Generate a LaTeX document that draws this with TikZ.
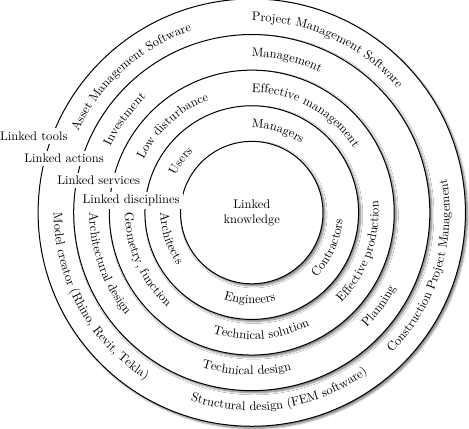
\documentclass[tikz,border=0pt]{standalone}
\usetikzlibrary{shadows.blur,decorations.text}
\newcommand\ringcw[3]{\path[decorate,decoration={text along path,text={#3},text align=left}] (#1:#2) arc[start angle=#1, end angle=#1-100, radius=#2];}
\newcommand\ringccw[3]{\path[decorate,decoration={text along path,text={#3},text align=left}] (#1:#2) arc[start angle=#1, end angle=#1+100, radius=#2];}
\begin{document}
\begin{tikzpicture}[
  ring/.style={draw=black, thick, fill=white,
    blur shadow={shadow xshift=0.55mm, shadow yshift=-0.55mm, shadow blur steps=6, shadow opacity=55}},
  lbl/.style={fill=white, inner sep=2.5pt},
]
\useasboundingbox (-7.07,-6.05) rectangle (6.10,5.97);
\foreach \r in {6,5,4,3,2} \draw[ring] (0,0) circle (\r);

% ring 1
\ringcw{154}{2.38}{Users}
\ringcw{90}{2.38}{Managers}
\ringccw{180}{2.56}{Architects}
\ringccw{-108}{2.56}{Engineers}
\ringccw{-45}{2.56}{Contractors}
% ring 2
\ringcw{154}{3.38}{Low disturbance}
\ringcw{90}{3.38}{Effective management}
\ringccw{180}{3.56}{Geometry, function}
\ringccw{-108}{3.56}{Technical solution}
\ringccw{-45}{3.56}{Effective production}
% ring 3
\ringcw{155}{4.38}{Investment}
\ringcw{90}{4.38}{Management}
\ringccw{180}{4.56}{Architectural design}
\ringccw{-108}{4.56}{Technical design}
\ringccw{-45}{4.56}{Planning}
% ring 4
\ringcw{155}{5.38}{Asset Management Software}
\ringcw{90}{5.38}{Project Management Software}
\ringccw{180}{5.56}{Model creator (Rhino, Revit, Tekla)}
\ringccw{-108}{5.56}{Structural design (FEM software)}
\ringccw{-45}{5.56}{Construction Project Management}

\node[lbl] (ltools) at (-6.12, 2.15) {Linked tools};
\node[lbl] (lactions) at (-5.27, 1.53) {Linked actions};
\node[lbl] (lservices) at (-4.30, 0.91) {Linked services};
\node[lbl] (ldisc) at (-3.39, 0.34) {Linked disciplines};
\node[align=center] (core) at (0,0) {Linked\\knowledge};
\end{tikzpicture}
\end{document}
